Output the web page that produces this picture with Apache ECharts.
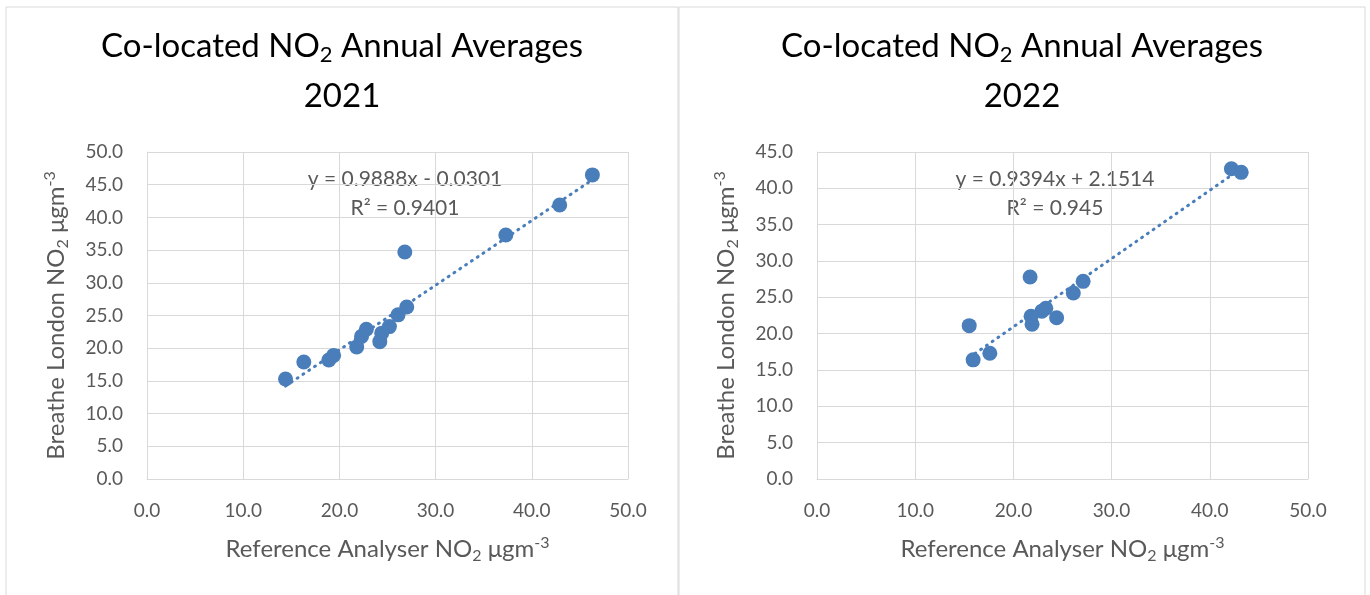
<!DOCTYPE html>
<html>
<head>
<meta charset="utf-8">
<title>Co-located NO2 Annual Averages</title>
<script src="https://cdn.jsdelivr.net/npm/echarts@6/dist/echarts.min.js"></script>
<style>
html,body{margin:0;padding:0;background:#fff;}
#main{width:1370px;height:595px;}
</style>
</head>
<body>
<div id="main"></div>
<script>
// 2021 数据 (参考仪 / Breathe London)
var x2021 = [14.4, 16.3, 18.9, 19.4, 21.8, 22.3, 22.8, 24.2, 24.4, 25.2, 26.1, 27.0, 26.8, 37.3, 42.9, 46.3];
var y2021 = [15.3, 17.9, 18.2, 18.9, 20.2, 21.8, 22.9, 21.0, 22.3, 23.3, 25.1, 26.3, 34.7, 37.3, 41.9, 46.5];
// 2022 数据
var x2022 = [15.5, 15.9, 17.6, 21.7, 21.8, 21.9, 22.9, 23.3, 24.4, 26.1, 27.1, 42.2, 43.2];
var y2022 = [21.1, 16.4, 17.3, 27.8, 22.4, 21.3, 23.1, 23.5, 22.2, 25.6, 27.2, 42.7, 42.2];
// 趋势线系数 [斜率, 截距]
var trend2021 = [0.9888, -0.0301];
var trend2022 = [0.9394, 2.1514];
var eq2021 = ['y = 0.9888x - 0.0301', 'R² = 0.9401'];
var eq2022 = ['y = 0.9394x + 2.1514', 'R² = 0.945'];
var years = ['2021', '2022'];
var yMax = [50, 45];

var FONT = 'Lato';
var TXT = '#595959';
var BLUE = '#4a7ebb';
var GRID = '#d9d9d9';

function pairs(xs, ys){
    var out = [];
    for (var i = 0; i < xs.length; i++) {
        out.push([xs[i], ys[i]]);
    }
    return out;
}
function trendLine(xs, coef){
    var lo = Math.min.apply(null, xs), hi = Math.max.apply(null, xs);
    return [[lo, coef[0] * lo + coef[1]], [hi, coef[0] * hi + coef[1]]];
}

var nameRich = {
    a: {fontFamily: FONT, fontSize: 24, color: TXT},
    s: {fontFamily: FONT, fontSize: 16, color: TXT, padding: [14, 0, 0, 0]},
    p: {fontFamily: FONT, fontSize: 16, color: TXT, padding: [0, 0, 12, 0]}
};
var titleRich = {
    a: {fontFamily: FONT, fontSize: 33, color: TXT, lineHeight: 50},
    s: {fontFamily: FONT, fontSize: 22, color: TXT, lineHeight: 50, padding: [18, 0, 0, 0]}
};

var grids = [
    {left: 147, top: 152, width: 481, height: 327},
    {left: 817, top: 152, width: 491, height: 327}
];

function xAxisOf(idx){
    return {
        type: 'value', gridIndex: idx, min: 0, max: 50, interval: 10,
        name: '{a|Reference Analyser NO}{s|2}{a| μgm}{p|-3}',
        nameLocation: 'middle', nameGap: 55,
        nameTextStyle: {rich: nameRich},
        axisLine: {show: true, lineStyle: {color: GRID}},
        axisTick: {show: false},
        splitLine: {show: true, lineStyle: {color: GRID, width: 1}},
        axisLabel: {color: TXT, fontFamily: FONT, fontSize: 19, margin: 22,
            formatter: function(v){ return v.toFixed(1); }}
    };
}
function yAxisOf(idx){
    return {
        type: 'value', gridIndex: idx, min: 0, max: yMax[idx], interval: 5,
        name: '{a|Breathe London NO}{s|2}{a| μgm}{p|-3}',
        nameLocation: 'middle', nameGap: 76, nameRotate: 90,
        nameTextStyle: {rich: nameRich},
        axisLine: {show: true, lineStyle: {color: GRID}},
        axisTick: {show: false},
        splitLine: {show: true, lineStyle: {color: GRID, width: 1}},
        axisLabel: {color: TXT, fontFamily: FONT, fontSize: 19, margin: 24,
            formatter: function(v){ return v.toFixed(1); }}
    };
}

function dots(idx, data){
    return {
        type: 'scatter', xAxisIndex: idx, yAxisIndex: idx, data: data,
        symbolSize: 15, z: 3,
        itemStyle: {color: BLUE, opacity: 1},
        emphasis: {disabled: true}
    };
}
function trend(idx, data){
    return {
        type: 'line', xAxisIndex: idx, yAxisIndex: idx, data: data,
        showSymbol: false, silent: true, z: 2,
        lineStyle: {color: BLUE, width: 3, type: [1, 6], cap: 'round'}
    };
}

function titleText(cx, year){
    return {
        type: 'text', x: cx, y: 21,
        style: {
            text: '{a|Co-located NO}{s|2}{a| Annual Averages}\n{a|' + year + '}',
            rich: titleRich, align: 'center', verticalAlign: 'top'
        }
    };
}
function eqText(cx, y, str){
    return {
        type: 'text', x: cx, y: y,
        style: {text: str, fill: TXT, font: '21px ' + FONT, align: 'center', verticalAlign: 'middle'}
    };
}

var chart = echarts.init(document.getElementById('main'));
chart.setOption({
    backgroundColor: '#fff',
    animation: false,
    grid: grids,
    xAxis: [xAxisOf(0), xAxisOf(1)],
    yAxis: [yAxisOf(0), yAxisOf(1)],
    series: [
        trend(0, trendLine(x2021, trend2021)),
        dots(0, pairs(x2021, y2021)),
        trend(1, trendLine(x2022, trend2022)),
        dots(1, pairs(x2022, y2022))
    ],
    graphic: [
        {type: 'rect', shape: {x: 6, y: 7, width: 672, height: 620}, style: {fill: 'none', stroke: GRID, lineWidth: 1}},
        {type: 'rect', shape: {x: 679, y: 7, width: 686, height: 620}, style: {fill: 'none', stroke: GRID, lineWidth: 1}},
        titleText(342, years[0]),
        titleText(1022, years[1]),
        eqText(405, 179, eq2021[0]),
        eqText(405, 208, eq2021[1]),
        eqText(1055, 179, eq2022[0]),
        eqText(1055, 208, eq2022[1])
    ]
});
</script>
</body>
</html>
